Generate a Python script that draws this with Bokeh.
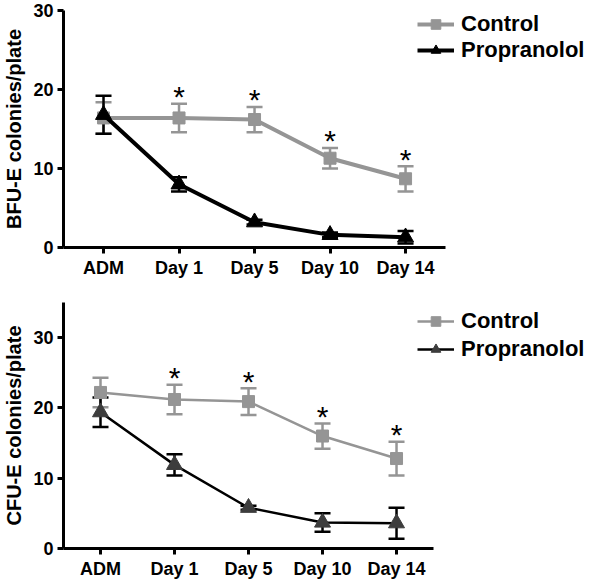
from bokeh.plotting import figure
from bokeh.models import (ColumnDataSource, Range1d, FixedTicker, Whisker, TeeHead,
                          Legend, LegendItem)
from bokeh.layouts import column
from bokeh.core.properties import value
from bokeh.embed import file_html
from bokeh.resources import INLINE

categories = ["ADM", "Day 1", "Day 5", "Day 10", "Day 14"]
significant = [False, True, True, True, True]

bfu_control = [16.4, 16.4, 16.2, 11.3, 8.7]
bfu_control_err = [2.0, 1.8, 1.6, 1.3, 1.6]
bfu_prop = [16.8, 8.0, 3.2, 1.6, 1.3]
bfu_prop_err = [2.4, 0.9, 0.3, 0.3, 0.8]

cfu_control = [22.2, 21.2, 20.9, 16.0, 12.8]
cfu_control_err = [2.1, 2.1, 1.9, 1.8, 2.4]
cfu_prop = [19.4, 11.9, 5.8, 3.7, 3.6]
cfu_prop_err = [2.1, 1.5, 0.3, 1.3, 2.2]

FONT = "Liberation Sans"
GRAY = "#959595"
N = len(categories)


def panel(ylabel, ctrl, ctrl_err, prop, prop_err, ymax, xpad, xspan, height,
          borders, line_w, prop_marker_color, legend_loc, legend_spacing):
    xs = list(range(N))
    p = figure(width=584, height=height, output_backend="svg", toolbar_location=None,
               x_range=Range1d(-xpad, -xpad + xspan),
               y_range=Range1d(0, ymax))
    p.min_border_top, p.min_border_bottom, p.min_border_left, p.min_border_right = borders
    p.outline_line_color = None
    p.grid.visible = False
    p.background_fill_color = "white"
    p.border_fill_color = "white"

    for ax in (p.xaxis[0], p.yaxis[0]):
        ax.axis_line_width = 3
        ax.axis_line_color = "black"
        ax.major_tick_line_width = 3
        ax.major_tick_line_color = "black"
        ax.major_tick_out = 6
        ax.major_tick_in = 0
        ax.minor_tick_line_color = None
        ax.major_label_text_font = FONT
        ax.major_label_text_font_style = "bold"
        ax.major_label_text_font_size = "18px"
        ax.major_label_text_color = "black"
        ax.major_label_standoff = 4
    p.xaxis.bounds = (-xpad, N - 1 + xpad)
    p.xaxis.ticker = FixedTicker(ticks=xs)
    p.xaxis.major_label_overrides = {i: c for i, c in enumerate(categories)}
    p.yaxis.ticker = FixedTicker(ticks=[0, 10, 20, 30])
    p.yaxis.axis_label = ylabel
    p.yaxis.axis_label_text_font = FONT
    p.yaxis.axis_label_text_font_style = "bold"
    p.yaxis.axis_label_text_font_size = "20px"
    p.yaxis.axis_label_text_color = "black"
    p.yaxis.axis_label_standoff = 5

    csrc = ColumnDataSource(dict(x=xs, y=ctrl,
                                 up=[v + e for v, e in zip(ctrl, ctrl_err)],
                                 lo=[v - e for v, e in zip(ctrl, ctrl_err)]))
    psrc = ColumnDataSource(dict(x=xs, y=prop,
                                 up=[v + e for v, e in zip(prop, prop_err)],
                                 lo=[v - e for v, e in zip(prop, prop_err)]))

    def whisk(src, color):
        w = Whisker(source=src, base="x", upper="up", lower="lo", dimension="height",
                    line_color=color, line_width=2.5,
                    upper_head=TeeHead(size=16, line_color=color, line_width=2.5),
                    lower_head=TeeHead(size=16, line_color=color, line_width=2.5))
        p.add_layout(w)

    whisk(csrc, GRAY)
    cl = p.line("x", "y", source=csrc, line_color=GRAY, line_width=line_w)
    cm = p.scatter("x", "y", source=csrc, marker="square", size=12,
                   fill_color=GRAY, line_color=GRAY)
    whisk(psrc, "black")
    pl = p.line("x", "y", source=psrc, line_color="black", line_width=line_w)
    pm = p.scatter("x", "y", source=psrc, marker="triangle", size=16,
                   fill_color=prop_marker_color, line_color=prop_marker_color)

    sx = [x for x, s in zip(xs, significant) if s]
    sy = [v + e for v, e, s in zip(ctrl, ctrl_err, significant) if s]
    ssrc = ColumnDataSource(dict(x=sx, y=sy, t=["*"] * len(sx)))
    p.text("x", "y", text="t", source=ssrc, text_font=value(FONT),
           text_font_size="30px", text_align="center", text_baseline="middle",
           y_offset=-7, text_color="black")

    leg = Legend(items=[LegendItem(label="Control", renderers=[cl, cm]),
                        LegendItem(label="Propranolol", renderers=[pl, pm])],
                 location=legend_loc, orientation="vertical",
                 label_text_font=FONT, label_text_font_style="bold",
                 label_text_font_size="22px", label_text_color="black",
                 glyph_width=37, glyph_height=24, label_standoff=7,
                 spacing=legend_spacing, padding=0, margin=0,
                 background_fill_alpha=0, border_line_alpha=0)
    p.add_layout(leg)
    return p


p1 = panel("BFU-E colonies/plate", bfu_control, bfu_control_err, bfu_prop, bfu_prop_err,
           30, 0.53, 6.9, 283, (10, 36, 56, 0), 4, "black", (354, 184), 0)
p2 = panel("CFU-E colonies/plate", cfu_control, cfu_control_err, cfu_prop, cfu_prop_err,
           35, 0.5, 7.04, 299, (19, 34, 56, 0), 2.5, "#3d3d3d", (354, 186), 2)

layout = column(p1, p2, spacing=0)
open("out.html", "w").write(file_html(layout, INLINE))
